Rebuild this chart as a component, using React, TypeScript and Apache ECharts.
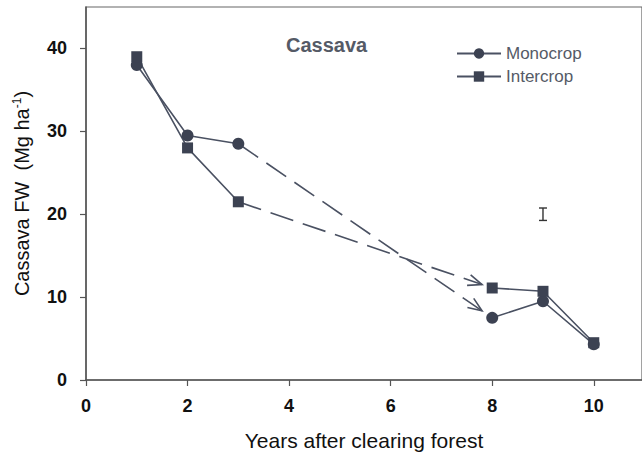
import React, { useEffect, useRef } from "react";
import * as echarts from "echarts";

const years = [1, 2, 3, 8, 9, 10];
const monocrop = [38, 29.5, 28.5, 7.5, 9.5, 4.3];
const intercrop = [39, 28, 21.5, 11.1, 10.7, 4.5];
const gapAfterIndex = 2; // dashed arrow between 3rd and 4th point
const xTicks = [0, 2, 4, 6, 8, 10];
const yTicks = [0, 10, 20, 30, 40];
const errX = [9];
const errY = [20];
const errHalf = [0.75];

const COLOR = "#4a5162";
const MARK = "#3c4252";
const FONT = "Liberation Sans, Arial, sans-serif";

function buildLine(vals: number[]) {
  const d: any[] = [];
  years.forEach((x, i) => {
    d.push([x, vals[i]]);
    if (i === gapAfterIndex) d.push([(x + years[i + 1]) / 2, "-"]);
  });
  return d;
}

function buildArrow(vals: number[]) {
  const i = gapAfterIndex;
  const f = 0.96;
  const x1 = years[i], y1 = vals[i];
  const x2 = x1 + (years[i + 1] - x1) * f;
  const y2 = y1 + (vals[i + 1] - y1) * f;
  return [x1, y1, x2, y2];
}

export default function App() {
  const ref = useRef<HTMLDivElement>(null);
  useEffect(() => {
    if (!ref.current) return;
    const chart = echarts.init(ref.current, null, { renderer: "svg" });
    const arrowData = [buildArrow(monocrop), buildArrow(intercrop)];
    const errData = errX.map((x, i) => [x, errY[i], errHalf[i]]);
    chart.setOption({
      animation: false,
      backgroundColor: "#fff",
      title: {
        text: "Cassava",
        left: 281,
        top: 30,
        textStyle: { fontFamily: FONT, fontSize: 20, fontWeight: "bold", color: "#555a66" },
      },
      legend: {
        orient: "vertical",
        left: 451,
        top: 40,
        itemWidth: 44,
        itemHeight: 13,
        itemGap: 6,
        data: ["Monocrop", "Intercrop"],
        textStyle: { fontFamily: FONT, fontSize: 17, color: "#555a66", padding: [0, 0, 0, 0] },
      },
      grid: { left: 86, top: 7, right: 0, bottom: 79, show: true, borderColor: "#666", borderWidth: 1.2 },
      xAxis: {
        type: "value",
        min: 0,
        max: 10.95,
        interval: 2,
        splitLine: { show: false },
        axisLine: { lineStyle: { color: "#555", width: 1.5 } },
        axisTick: { show: true, length: 6, inside: false, lineStyle: { color: "#555", width: 1.2 } },
        axisLabel: {
          margin: 17,
          showMaxLabel: false,
          fontFamily: FONT,
          fontSize: 18,
          fontWeight: "bold",
          color: "#111",
          formatter: (v: number) => (xTicks.includes(v) ? String(v) : ""),
        },
        name: "Years after clearing forest",
        nameLocation: "middle",
        nameGap: 50,
        nameTextStyle: { fontFamily: FONT, fontSize: 21, color: "#111" },
      },
      yAxis: {
        type: "value",
        min: 0,
        max: 45,
        interval: 10,
        splitLine: { show: false },
        axisLine: { show: true, lineStyle: { color: "#555", width: 1.5 } },
        axisTick: { show: true, length: 6, lineStyle: { color: "#555", width: 1.2 } },
        axisLabel: {
          margin: 19,
          showMaxLabel: false,
          fontFamily: FONT,
          fontSize: 18,
          fontWeight: "bold",
          color: "#111",
          formatter: (v: number) => (yTicks.includes(v) ? String(v) : ""),
        },
        name: "{n|Cassava FW  (Mg ha}{s|-1}{n|)}",
        nameLocation: "middle",
        nameGap: 54,
        nameTextStyle: {
          rich: {
            n: { fontFamily: FONT, fontSize: 20, color: "#111" },
            s: { fontFamily: FONT, fontSize: 12, color: "#111", verticalAlign: "top", padding: [0, 0, 9, 0] },
          },
        },
      },
      series: [
        {
          name: "Monocrop",
          type: "line",
          data: buildLine(monocrop),
          connectNulls: false,
          symbol: "circle",
          symbolSize: 12,
          itemStyle: { color: MARK },
          lineStyle: { color: COLOR, width: 1.6 },
          z: 3,
        },
        {
          name: "Intercrop",
          type: "line",
          data: buildLine(intercrop),
          connectNulls: false,
          symbol: "rect",
          symbolSize: 11,
          itemStyle: { color: MARK },
          lineStyle: { color: COLOR, width: 1.6 },
          z: 3,
        },
        {
          type: "custom",
          data: arrowData,
          encode: { x: [0, 2], y: [1, 3] },
          silent: true,
          renderItem: (params: any, api: any) => {
            const p1 = api.coord([api.value(0), api.value(1)]);
            const p2 = api.coord([api.value(2), api.value(3)]);
            const ang = Math.atan2(p2[1] - p1[1], p2[0] - p1[0]);
            const L = 15, a = 0.38;
            const w1 = [p2[0] - L * Math.cos(ang - a), p2[1] - L * Math.sin(ang - a)];
            const w2 = [p2[0] - L * Math.cos(ang + a), p2[1] - L * Math.sin(ang + a)];
            return {
              type: "group",
              children: [
                {
                  type: "line",
                  shape: { x1: p1[0], y1: p1[1], x2: p2[0], y2: p2[1] },
                  style: { stroke: COLOR, lineWidth: 1.6, lineDash: [24, 10], fill: null },
                },
                {
                  type: "polyline",
                  shape: { points: [w1, p2, w2] },
                  style: { stroke: COLOR, lineWidth: 1.6, fill: null },
                },
              ],
            };
          },
        },
        {
          type: "custom",
          data: errData,
          encode: { x: 0, y: 1 },
          silent: true,
          renderItem: (params: any, api: any) => {
            const x = api.value(0), y = api.value(1), h = api.value(2);
            const top = api.coord([x, y + h]);
            const bot = api.coord([x, y - h]);
            const c = 4;
            const st = { stroke: "#333", lineWidth: 1.4, fill: null };
            return {
              type: "group",
              children: [
                { type: "line", shape: { x1: top[0], y1: top[1], x2: bot[0], y2: bot[1] }, style: st },
                { type: "line", shape: { x1: top[0] - c, y1: top[1], x2: top[0] + c, y2: top[1] }, style: st },
                { type: "line", shape: { x1: bot[0] - c, y1: bot[1], x2: bot[0] + c, y2: bot[1] }, style: st },
              ],
            };
          },
        },
      ],
    });
    return () => chart.dispose();
  }, []);
  return <div ref={ref} style={{ width: 642, height: 459, position: "absolute", left: 0, top: 0 }} />;
}
